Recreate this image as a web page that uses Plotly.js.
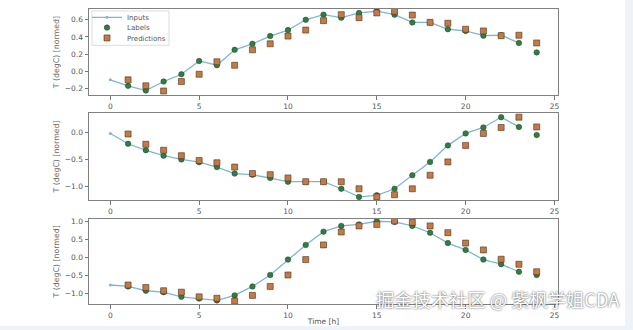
<!DOCTYPE html>
<html><head><meta charset="utf-8">
<script src="https://cdn.plot.ly/plotly-3.0.1.min.js"></script>
<style>
html,body{margin:0;padding:0;background:#eef2f9;width:633px;height:330px;overflow:hidden;}
#chart{position:absolute;left:0;top:0;width:625px;height:326px;background:#fff;}
</style></head><body>
<div id="chart"></div>
<script>
// Time steps
const inputSteps = [0,1,2,3,4,5,6,7,8,9,10,11,12,13,14,15,16,17,18,19,20,21,22,23];
const labelSteps = [1,2,3,4,5,6,7,8,9,10,11,12,13,14,15,16,17,18,19,20,21,22,23,24];

// Panel 1
const inputs1 = [-0.10,-0.17,-0.225,-0.12,-0.035,0.12,0.07,0.25,0.32,0.41,0.48,0.60,0.66,0.625,0.68,0.70,0.66,0.57,0.57,0.49,0.47,0.415,0.42,0.33];
const labels1 = [-0.17,-0.225,-0.12,-0.035,0.12,0.07,0.25,0.32,0.41,0.48,0.60,0.66,0.625,0.68,0.70,0.66,0.57,0.57,0.49,0.47,0.415,0.42,0.33,0.22];
const preds1  = [-0.10,-0.17,-0.23,-0.12,-0.035,0.11,0.07,0.25,0.32,0.41,0.48,0.59,0.66,0.625,0.68,0.70,0.655,0.57,0.56,0.49,0.47,0.415,0.42,0.33];

// Panel 2
const inputs2 = [-0.02,-0.21,-0.33,-0.43,-0.50,-0.55,-0.64,-0.76,-0.78,-0.84,-0.91,-0.91,-0.91,-1.04,-1.19,-1.16,-1.04,-0.79,-0.545,-0.24,-0.02,0.09,0.28,0.10];
const labels2 = [-0.21,-0.33,-0.43,-0.50,-0.55,-0.64,-0.76,-0.78,-0.84,-0.91,-0.91,-0.91,-1.04,-1.19,-1.16,-1.04,-0.79,-0.545,-0.24,-0.02,0.09,0.28,0.10,-0.05];
const preds2  = [-0.03,-0.22,-0.33,-0.43,-0.52,-0.56,-0.64,-0.76,-0.78,-0.84,-0.91,-0.91,-0.91,-1.04,-1.19,-1.15,-1.04,-0.79,-0.545,-0.24,-0.02,0.09,0.28,0.10];

// Panel 3
const inputs3 = [-0.77,-0.81,-0.93,-0.97,-1.10,-1.15,-1.20,-1.06,-0.81,-0.49,-0.06,0.35,0.72,0.88,0.92,1.01,0.99,0.88,0.69,0.40,0.21,-0.06,-0.19,-0.40];
const labels3 = [-0.81,-0.93,-0.97,-1.10,-1.15,-1.20,-1.06,-0.81,-0.49,-0.06,0.35,0.72,0.88,0.92,1.01,0.99,0.88,0.69,0.40,0.21,-0.06,-0.19,-0.40,-0.49];
const preds3  = [-0.77,-0.84,-0.93,-0.97,-1.10,-1.14,-1.22,-1.06,-0.81,-0.49,-0.06,0.35,0.71,0.88,0.92,1.02,0.98,0.88,0.69,0.40,0.21,-0.05,-0.19,-0.40];

const xTicks = [0,5,10,15,20,25];
const yTicks1 = [-0.2,0.0,0.2,0.4,0.6];
const yTicks2 = [-1.0,-0.5,0.0];
const yTicks3 = [-1.0,-0.5,0.0,0.5,1.0];
const yTitle = 'T (degC) [normed]';
const xTitle = 'Time [h]';
const seriesNames = ['Inputs','Labels','Predictions'];

const lineColor = '#7db7d6';
const greenColor = '#2f8040';
const orangeColor = '#c57a45';

function panel(inp, lab, pre, n, showLegend){
  const xa = n===1 ? 'x' : 'x'+n, ya = n===1 ? 'y' : 'y'+n;
  return [
    {x: inputSteps, y: inp, xaxis: xa, yaxis: ya, type:'scatter', mode:'lines+markers', name:seriesNames[0],
     line:{color:lineColor, width:1.3}, marker:{color:lineColor, size:3}, showlegend:showLegend, legend:'legend'},
    {x: labelSteps, y: lab, xaxis: xa, yaxis: ya, type:'scatter', mode:'markers', name:seriesNames[1],
     marker:{color:greenColor, size:5.5, line:{color:'#1c3a22', width:0.5}}, showlegend:showLegend, legend:'legend2'},
    {x: labelSteps, y: pre, xaxis: xa, yaxis: ya, type:'scatter', mode:'markers', name:seriesNames[2],
     marker:{color:orangeColor, symbol:'square', size:6, line:{color:'#4a3020', width:0.6}}, showlegend:showLegend, legend:'legend3'}
  ];
}

const data = [].concat(panel(inputs1, labels1, preds1, 1, true),
                       panel(inputs2, labels2, preds2, 2, false),
                       panel(inputs3, labels3, preds3, 3, false));

const tickFont = {family:'DejaVu Sans', size:7.5, color:'#555'};
function xaxis(anchor, title){
  const a = {anchor: anchor, range:[-1.2,25.2], tickvals:xTicks, ticktext:xTicks.map(String),
    ticks:'outside', ticklen:3.5, tickcolor:'#777', showgrid:false, zeroline:false,
    showline:true, linecolor:'#808080', linewidth:1, mirror:true, tickfont:tickFont};
  if(title) a.title = {text:title, font:{family:'DejaVu Sans', size:7.5, color:'#555'}, standoff:2};
  return a;
}
function yaxis(domain, range, ticks){
  return {domain:domain, range:range, tickvals:ticks, ticktext:ticks.map(v=>v.toFixed(1).replace('-','−')),
    ticks:'outside', ticklen:3.5, tickcolor:'#777', showgrid:false, zeroline:false,
    showline:true, linecolor:'#808080', linewidth:1, mirror:true, tickfont:tickFont,
    title:{text:yTitle, font:{family:'DejaVu Sans', size:7.8, color:'#666'}, standoff:4}};
}

// legend rows (paper coords) – one legend per entry to get compact spacing
const H = 301, W = 469;
function py(px){ return (304 - px) / H; }
function pxX(px){ return (px - 89) / W; }
function leg(rowPx){
  return {x: pxX(87), y: py(rowPx), xanchor:'left', yanchor:'middle', bgcolor:'rgba(0,0,0,0)',
    borderwidth:0, font:{family:'DejaVu Sans', size:7, color:'#555'}, itemwidth:30, tracegroupgap:0};
}

const layout = {
  width:625, height:326,
  margin:{l:89, r:67, t:3, b:22},
  paper_bgcolor:'#ffffff', plot_bgcolor:'#ffffff',
  showlegend:true,
  legend: leg(11.5),
  legend2: leg(22),
  legend3: leg(32.5),
  xaxis: xaxis('y'),
  yaxis: yaxis([0.7076,1], [-0.28,0.726], yTicks1),
  xaxis2: xaxis('y2'),
  yaxis2: yaxis([0.352,0.648], [-1.25,0.36], yTicks2),
  xaxis3: xaxis('y3', xTitle),
  yaxis3: yaxis([0,0.289], [-1.30,1.08], yTicks3),
  shapes:[
    {type:'rect', xref:'paper', yref:'paper', x0:pxX(92), x1:pxX(169), y0:py(40), y1:py(5),
     fillcolor:'rgba(255,255,255,0.9)', line:{color:'#dcdcdc', width:1}, layer:'above'}
  ],
  annotations:[
    {text:'掘金技术社区 @ 紫枫学姐CDA', xref:'paper', yref:'paper', x:pxX(622), y:py(314), xanchor:'right', yanchor:'bottom',
     showarrow:false, font:{family:'Noto Sans CJK SC', size:18.3, color:'#ffffff', shadow:'0px 0px 2px #333'}}
  ]
};

Plotly.newPlot('chart', data, layout, {displayModeBar:false, staticPlot:true});
</script>
</body></html>
